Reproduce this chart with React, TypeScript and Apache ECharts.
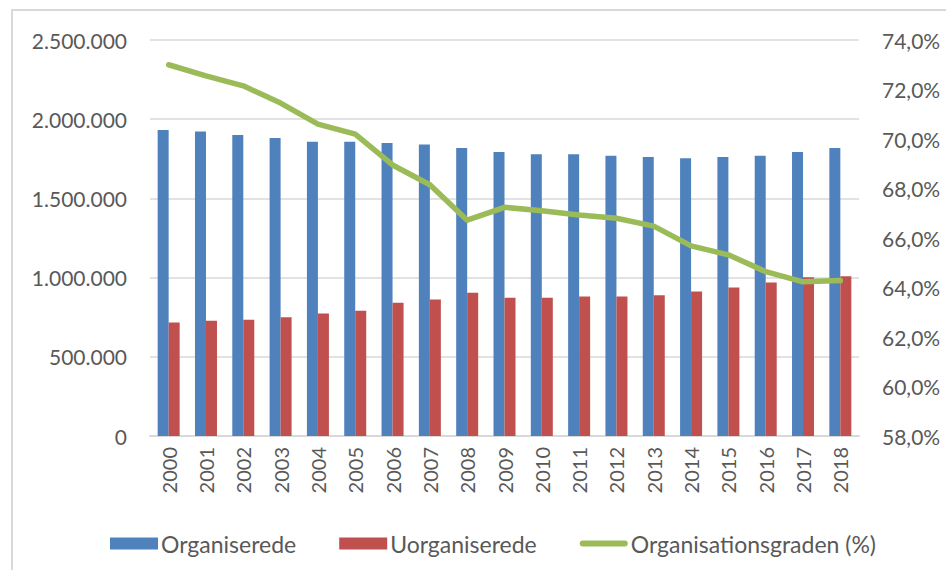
import React, { useEffect, useRef } from "react";
import * as echarts from "echarts";

const years = ["2000","2001","2002","2003","2004","2005","2006","2007","2008","2009","2010","2011","2012","2013","2014","2015","2016","2017","2018"];
const organiserede = [1932000,1923000,1900000,1881000,1858000,1858000,1850000,1841000,1818000,1793000,1778000,1778000,1770000,1762000,1753000,1762000,1770000,1793000,1818000];
const uorganiserede = [717000,728000,734000,750000,774000,791000,841000,862000,904000,873000,873000,881000,881000,889000,912000,937000,969000,1002000,1009000];
const organisationsgrad = [73.0,72.55,72.15,71.45,70.6,70.2,68.95,68.15,66.72,67.24,67.1,66.93,66.8,66.48,65.68,65.32,64.64,64.23,64.28];

const seriesNames = ["Organiserede", "Uorganiserede", "Organisationsgraden (%)"];

const FONT = "Lato, 'Open Sans', sans-serif";
const TXT = "#595959";
const GRID = "#d9d9d9";

function fmtThousands(v: number): string {
  return String(Math.round(v)).replace(/\B(?=(\d{3})+(?!\d))/g, ".");
}

export default function App() {
  const ref = useRef<HTMLDivElement>(null);
  useEffect(() => {
    if (!ref.current) return;
    const chart = echarts.init(ref.current, undefined, { renderer: "svg" });
    chart.setOption({
      animation: false,
      backgroundColor: "#ffffff",
      textStyle: { fontFamily: FONT },
      graphic: [
        {
          type: "rect",
          shape: { x: 12, y: 10, width: 1000, height: 1000 },
          style: { fill: "none", stroke: GRID, lineWidth: 2 },
          silent: true,
        },
      ],
      grid: { left: 150, right: 87, top: 40, bottom: 134, containLabel: false },
      legend: {
        left: 105,
        top: 527,
        itemGap: 43,
        itemWidth: 48,
        itemHeight: 12,
        textStyle: { color: TXT, fontSize: 23, fontFamily: FONT, padding: [0, 0, 0, -2] },
        data: [
          { name: seriesNames[0], icon: "rect" },
          { name: seriesNames[1], icon: "rect" },
          {
            name: seriesNames[2],
            icon: "path://M3,0 L45,0 A3,3 0 0 1 45,6 L3,6 A3,3 0 0 1 3,0 Z",
            itemStyle: { color: "#9BBB59" },
          },
        ],
      },
      xAxis: {
        type: "category",
        data: years,
        axisLine: { show: true, lineStyle: { color: GRID, width: 2 } },
        axisTick: { show: false },
        axisLabel: { rotate: 90, color: TXT, fontSize: 20, fontFamily: FONT, margin: 11 },
      },
      yAxis: [
        {
          type: "value",
          min: 0,
          max: 2500000,
          interval: 500000,
          axisLine: { show: false },
          axisTick: { show: false },
          splitLine: { lineStyle: { color: GRID, width: 1.5 } },
          axisLabel: {
            color: TXT,
            fontSize: 21,
            fontFamily: FONT,
            margin: 23,
            formatter: (v: number) => fmtThousands(v),
          },
        },
        {
          type: "value",
          min: 58,
          max: 74,
          interval: 2,
          position: "right",
          axisLine: { show: false },
          axisTick: { show: false },
          splitLine: { show: false },
          axisLabel: {
            color: TXT,
            fontSize: 21,
            fontFamily: FONT,
            margin: 23,
            formatter: (v: number) => v.toFixed(1).replace(".", ",") + "%",
          },
        },
      ],
      series: [
        {
          name: seriesNames[0],
          type: "bar",
          data: organiserede,
          barWidth: 11,
          barGap: "0%",
          itemStyle: { color: "#4F81BD" },
        },
        {
          name: seriesNames[1],
          type: "bar",
          data: uorganiserede,
          barWidth: 11,
          barGap: "0%",
          itemStyle: { color: "#C0504D" },
        },
        {
          name: seriesNames[2],
          type: "line",
          yAxisIndex: 1,
          data: organisationsgrad,
          symbol: "none",
          smooth: false,
          lineStyle: { color: "#9BBB59", width: 5.5, cap: "round", join: "round" },
          itemStyle: { color: "#9BBB59" },
        },
      ],
    });
    return () => chart.dispose();
  }, []);
  return (
    <div
      ref={ref}
      style={{ position: "absolute", left: 0, top: 0, width: 946, height: 570 }}
    />
  );
}
